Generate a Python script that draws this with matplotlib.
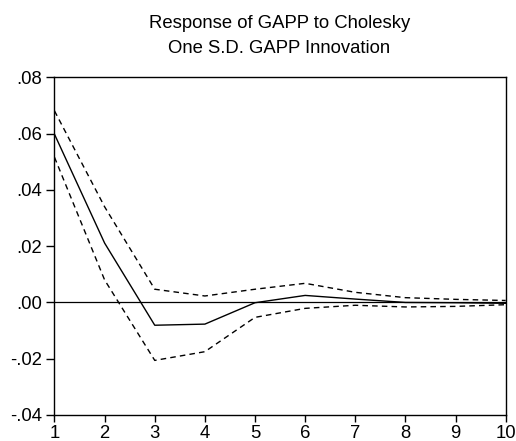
import matplotlib
matplotlib.use("Agg")
import matplotlib.pyplot as plt

periods = [1, 2, 3, 4, 5, 6, 7, 8, 9, 10]
response = [0.0598, 0.0211, -0.0081, -0.0077, -0.0001, 0.0025, 0.0012, 0.0000, -0.0001, -0.0003]
upper = [0.0681, 0.0340, 0.0047, 0.0023, 0.0047, 0.0068, 0.0036, 0.0017, 0.0011, 0.0007]
lower = [0.0516, 0.0080, -0.0206, -0.0175, -0.0053, -0.0021, -0.0010, -0.0016, -0.0014, -0.0008]
yticks = [-0.04, -0.02, 0.00, 0.02, 0.04, 0.06, 0.08]
ytick_labels = ["-.04", "-.02", ".00", ".02", ".04", ".06", ".08"]
title_lines = ["Response of GAPP to Cholesky", "One S.D. GAPP Innovation"]

plt.rcParams['font.family'] = ['Liberation Sans', 'DejaVu Sans']

fig = plt.figure(figsize=(5.16, 4.41), dpi=100)
ax = fig.add_axes([0.1056, 0.059, 0.8744, 0.7655])

ax.plot(periods, response, color='black', lw=1.0)
ax.plot(periods, upper, color='black', lw=1.0, ls=(0, (4, 3)))
ax.plot(periods, lower, color='black', lw=1.0, ls=(0, (4, 3)))
ax.axhline(0, color='black', lw=0.9)

ax.set_xlim(1, 10)
ax.set_ylim(-0.04, 0.08)
ax.set_xticks(periods)
ax.set_xticklabels([str(p) for p in periods])
ax.set_yticks(yticks)
ax.set_yticklabels(ytick_labels)
ax.tick_params(axis='y', direction='out', length=6, width=1, labelsize=13.3, pad=3, colors='black')
ax.tick_params(axis='x', direction='out', length=5, width=1, labelsize=13.3, pad=2, colors='black')
for s in ax.spines.values():
    s.set_linewidth(1.0)
    s.set_color('black')

fig.text(0.5417, 1 - 28 / 441, title_lines[0], ha='center', va='baseline', fontsize=13.3)
fig.text(0.5417, 1 - 53 / 441, title_lines[1], ha='center', va='baseline', fontsize=13.3)

fig.savefig("out.png", dpi=100)
